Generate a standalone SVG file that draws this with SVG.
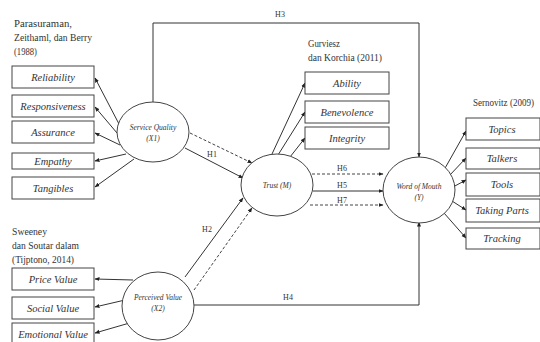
<svg xmlns="http://www.w3.org/2000/svg" width="540" height="342" viewBox="0 0 540 342">
<defs>
<marker id="ah" viewBox="0 0 10 10" refX="9" refY="5" markerWidth="5" markerHeight="5" orient="auto-start-reverse">
<path d="M0,1 L10,5 L0,9 z" fill="#222"/>
</marker>
<style>
.bg{fill:#fff}
.box{fill:#fff;stroke:#444;stroke-width:1}
.ell{fill:#fff;stroke:#444;stroke-width:1}
text{font-family:'Liberation Serif','Times New Roman','DejaVu Serif','Noto Serif',serif}
.bt{font-style:italic;font-size:10.5px;fill:#333;text-anchor:middle}
.et{font-style:italic;font-size:7.5px;fill:#333;text-anchor:middle}
.src{font-size:10px;fill:#333}
.hl{font-size:8px;fill:#333;text-anchor:middle}
.ln{fill:none;stroke:#333;stroke-width:1;marker-end:url(#ah)}
.dl{fill:none;stroke:#444;stroke-width:1;stroke-dasharray:3,2;marker-end:url(#ah)}
</style>
</defs>
<rect class="bg" x="0" y="0" width="540" height="342"/>

<g id="connectors">
<path class="ln" d="M153,102 V23 H419 V157"/>
<path class="ln" d="M194,305 H419 V222"/>
<path class="ln" d="M185,148 L243,178"/>
<path class="dl" d="M190,133 L252,163"/>
<path class="ln" d="M185,277 L243,198"/>
<path class="dl" d="M194,290 L252,208"/>
<path class="dl" d="M312,174 L383,174"/>
<path class="ln" d="M313,191 L383,191"/>
<path class="dl" d="M310,205 L383,205"/>
<path class="ln" d="M119,124 L95,78"/>
<path class="ln" d="M117,133 L95,107"/>
<path class="ln" d="M120,145 L95,133"/>
<path class="ln" d="M126,154 L95,161"/>
<path class="ln" d="M134,159 L95,187"/>
<path class="ln" d="M272,154 L305,83"/>
<path class="ln" d="M278,155 L305,112"/>
<path class="ln" d="M290,157 L305,138"/>
<path class="ln" d="M444,170 L466,131"/>
<path class="ln" d="M449,176 L466,158"/>
<path class="ln" d="M453,187 L466,180"/>
<path class="ln" d="M452,201 L466,210"/>
<path class="ln" d="M444,213 L466,238"/>
<path class="ln" d="M133,280 L95,279"/>
<path class="ln" d="M125,300 L95,307"/>
<path class="ln" d="M133,322 L95,333"/>
<text class="hl" x="280" y="17">H3</text>
<text class="hl" x="212" y="157">H1</text>
<text class="hl" x="207" y="232">H2</text>
<text class="hl" x="342" y="171">H6</text>
<text class="hl" x="342" y="188">H5</text>
<text class="hl" x="342" y="203">H7</text>
<text class="hl" x="288" y="300">H4</text>
</g>

<g id="src-parasuraman">
<text class="src" x="14" y="27" textLength="58" lengthAdjust="spacingAndGlyphs">Parasuraman,</text>
<text class="src" x="14" y="41" textLength="78" lengthAdjust="spacingAndGlyphs">Zeithaml, dan Berry</text>
<text class="src" x="14" y="55" textLength="23" lengthAdjust="spacingAndGlyphs">(1988)</text>
</g>
<g id="src-gurviesz">
<text class="src" x="308" y="47" textLength="32" lengthAdjust="spacingAndGlyphs">Gurviesz</text>
<text class="src" x="308" y="61" textLength="74" lengthAdjust="spacingAndGlyphs">dan Korchia (2011)</text>
</g>
<g id="src-sernovitz">
<text class="src" x="473" y="106" textLength="61" lengthAdjust="spacingAndGlyphs">Sernovitz (2009)</text>
</g>
<g id="src-sweeney">
<text class="src" x="12" y="235" textLength="35" lengthAdjust="spacingAndGlyphs">Sweeney</text>
<text class="src" x="12" y="249" textLength="67" lengthAdjust="spacingAndGlyphs">dan Soutar dalam</text>
<text class="src" x="12" y="263" textLength="62" lengthAdjust="spacingAndGlyphs">(Tijptono, 2014)</text>
</g>

<g id="reliability"><rect class="box" x="12" y="66" width="82" height="22"/><text class="bt" x="53" y="81">Reliability</text></g>
<g id="responsiveness"><rect class="box" x="12" y="95" width="82" height="22"/><text class="bt" x="53" y="110">Responsiveness</text></g>
<g id="assurance"><rect class="box" x="12" y="121" width="82" height="22"/><text class="bt" x="53" y="136">Assurance</text></g>
<g id="empathy"><rect class="box" x="12" y="153" width="82" height="16"/><text class="bt" x="53" y="165">Empathy</text></g>
<g id="tangibles"><rect class="box" x="12" y="177" width="82" height="22"/><text class="bt" x="53" y="192">Tangibles</text></g>

<g id="price-value"><rect class="box" x="12" y="268" width="82" height="22"/><text class="bt" x="53" y="283">Price Value</text></g>
<g id="social-value"><rect class="box" x="12" y="297" width="82" height="22"/><text class="bt" x="53" y="312">Social Value</text></g>
<g id="emotional-value"><rect class="box" x="12" y="323" width="82" height="24"/><text class="bt" x="53" y="338">Emotional Value</text></g>

<g id="ability"><rect class="box" x="305" y="72" width="84" height="22"/><text class="bt" x="347" y="87">Ability</text></g>
<g id="benevolence"><rect class="box" x="305" y="101" width="84" height="22"/><text class="bt" x="347" y="116">Benevolence</text></g>
<g id="integrity"><rect class="box" x="305" y="127" width="84" height="22"/><text class="bt" x="347" y="142">Integrity</text></g>

<g id="topics"><rect class="box" x="466" y="118" width="74" height="22"/><text class="bt" x="502" y="133">Topics</text></g>
<g id="talkers"><rect class="box" x="466" y="148" width="74" height="21"/><text class="bt" x="502" y="162">Talkers</text></g>
<g id="tools"><rect class="box" x="466" y="173" width="74" height="23"/><text class="bt" x="502" y="188">Tools</text></g>
<g id="taking-parts"><rect class="box" x="466" y="199" width="74" height="23"/><text class="bt" x="502" y="214">Taking Parts</text></g>
<g id="tracking"><rect class="box" x="466" y="228" width="74" height="21"/><text class="bt" x="502" y="242">Tracking</text></g>

<g id="service-quality"><ellipse class="ell" cx="153" cy="132" rx="36" ry="30"/><text class="et" x="153" y="130">Service Quality</text><text class="et" x="153" y="141">(X1)</text></g>
<g id="trust"><ellipse class="ell" cx="277" cy="185" rx="36" ry="31"/><text class="et" x="277" y="188">Trust (M)</text></g>
<g id="word-of-mouth"><ellipse class="ell" cx="419" cy="190" rx="36" ry="33"/><text class="et" x="419" y="189">Word of Mouth</text><text class="et" x="419" y="200">(Y)</text></g>
<g id="perceived-value"><ellipse class="ell" cx="158" cy="306" rx="36" ry="34"/><text class="et" x="158" y="300">Perceived Value</text><text class="et" x="158" y="311">(X2)</text></g>
</svg>
